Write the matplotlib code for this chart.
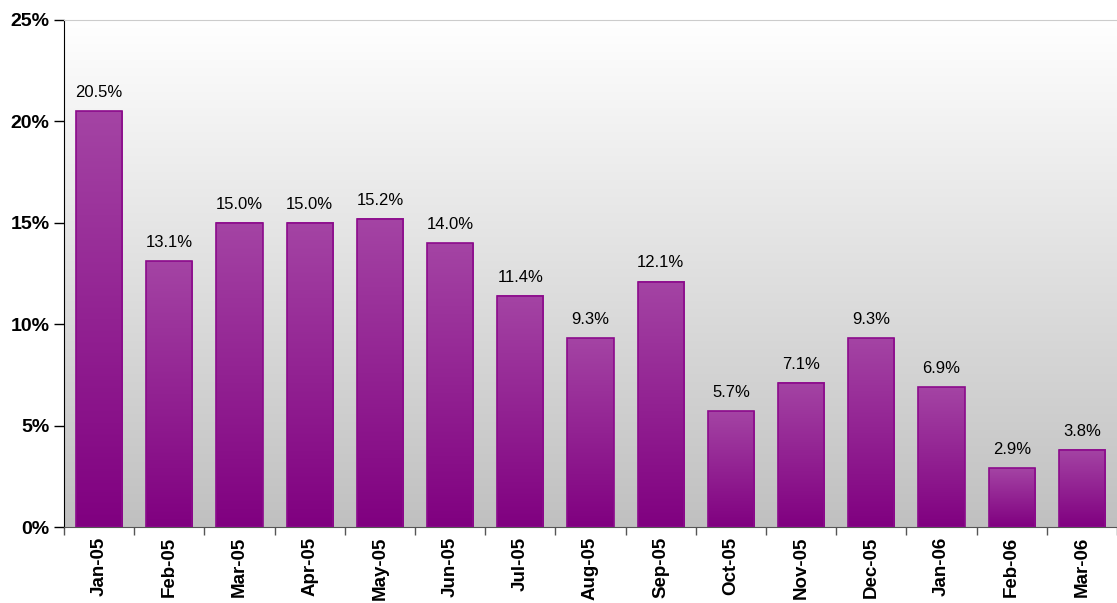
import numpy as np
import matplotlib.pyplot as plt
from matplotlib.colors import LinearSegmentedColormap
from matplotlib.ticker import FuncFormatter, FixedLocator

months = ['Jan-05', 'Feb-05', 'Mar-05', 'Apr-05', 'May-05', 'Jun-05', 'Jul-05', 'Aug-05',
          'Sep-05', 'Oct-05', 'Nov-05', 'Dec-05', 'Jan-06', 'Feb-06', 'Mar-06']
values = [20.5, 13.1, 15.0, 15.0, 15.2, 14.0, 11.4, 9.3, 12.1, 5.7, 7.1, 9.3, 6.9, 2.9, 3.8]

plt.rcParams['font.family'] = ['Liberation Sans', 'DejaVu Sans']

fig = plt.figure(figsize=(11.17, 6.03), dpi=100)
ax = fig.add_axes([0.0573, 0.126, 0.9427, 0.841])

x = np.arange(len(months))

# background gradient (white top -> grey bottom)
bg = LinearSegmentedColormap.from_list('bg', ['#c0c0c0', '#ffffff'])
grad = np.linspace(0, 1, 256).reshape(-1, 1)
ax.imshow(grad, cmap=bg, aspect='auto', extent=(-0.5, len(months) - 0.5, 0, 25),
          origin='lower', zorder=0)

bars = ax.bar(x, values, width=0.66, facecolor='none', edgecolor='#8b0a8b', linewidth=1.2, zorder=3)

barcm = LinearSegmentedColormap.from_list('bar', ['#800080', '#a444a4'])
for b in bars:
    ax.imshow(grad, cmap=barcm, aspect='auto', origin='lower',
              extent=(b.get_x(), b.get_x() + b.get_width(), 0, b.get_height()), zorder=2)

for xi, v in zip(x, values):
    ax.annotate(f'{v:.1f}%', (xi, v), xytext=(0, 8), textcoords='offset points',
                ha='center', va='bottom', fontsize=12)

ax.set_xlim(-0.5, len(months) - 0.5)
ax.set_ylim(0, 25)

ax.set_yticks(np.arange(0, 26, 5))
ax.yaxis.set_major_formatter(FuncFormatter(lambda v, p: f'{v:.0f}%'))
ax.tick_params(axis='y', labelsize=14, length=7, width=1, direction='out')
for lab in ax.get_yticklabels():
    lab.set_fontweight('bold')

ax.set_xticks(x)
ax.set_xticklabels(months, rotation=90, fontsize=13.5, fontweight='bold')
ax.xaxis.set_minor_locator(FixedLocator(np.arange(-0.5, len(months), 1.0)))
ax.tick_params(axis='x', which='major', length=0, pad=7)
ax.tick_params(axis='x', which='minor', length=6, width=1, color='#555555')

ax.spines['right'].set_visible(False)
ax.spines['top'].set_color('#cccccc')
ax.spines['left'].set_color('black')
ax.spines['bottom'].set_color('#555555')

fig.savefig('out.png', dpi=100)
